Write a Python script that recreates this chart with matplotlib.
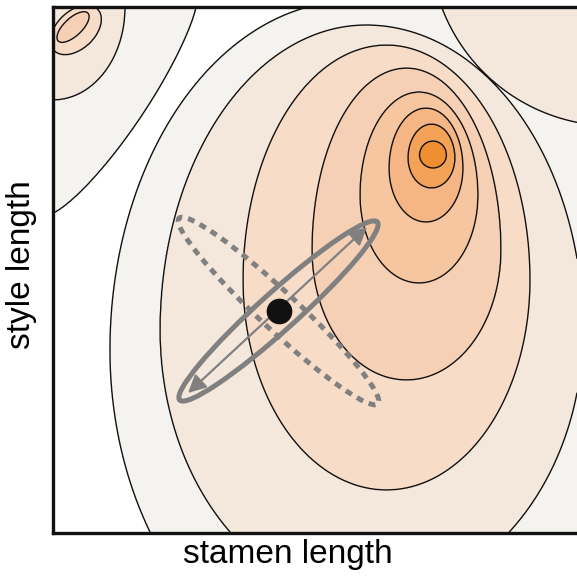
import numpy as np
import matplotlib
matplotlib.use('Agg')
import matplotlib.pyplot as plt
from matplotlib.patches import Ellipse

plt.rcParams['font.family'] = ['Liberation Sans', 'DejaVu Sans']

# trait space (arbitrary units, ~1 unit per pixel of the original)
x_max, y_max = 524, 526

# main fitness peak: nested egg-shaped contours, outer -> inner
main_levels = [1, 2, 3, 4, 5, 6, 7, 8]
main_cx = [300, 313, 333.5, 353.5, 366, 373, 378.5, 380]
main_cy = [183, 203, 253, 283, 338, 365, 375, 378]
main_a_left = [243, 206, 143.5, 94.5, 59, 37, 23.5, 13.5]
main_a_right = [420, 217, 143.5, 94.5, 59, 37, 23.5, 13.5]
main_top = [349, 305, 235, 182, 103, 60, 34, 14]
main_bottom = [331, 269, 210, 130, 88, 54, 30, 13]

# secondary peak in the upper-left corner
left_levels = [1, 2, 3, 4]
left_cx = [0, 0, 23, 20]
left_cy = [526, 525, 503, 506]
left_a = [143, 72, 30, 20.5]
left_b = [206, 92, 19, 9]
left_angle = [0, 0, 43, 43]
left_power = [1.25, 2, 2, 2]

# shoulder of a peak beyond the upper-right corner
tr_levels = [2]
tr_cx = [560]
tr_cy = [590]
tr_r = [183]

level_colors = ['#ffffff', '#f4f3ef', '#f4e8dc', '#f7dcc8', '#f5d0b5',
                '#f5c6a0', '#f5b585', '#f3a258', '#ef8f32']

# population: mean and two covariance ellipses
pop_mean = (225.5, 222)
cov_solid = dict(width=266, height=38, angle=42)
cov_dashed = dict(width=272, height=38, angle=-43)
arrow_start = (135, 140)
arrow_end = (314, 306)


def family_level(X, Y, shapes, values, out_slope=3.0, in_slope=1.0):
    R = []
    for cx, cy, al, ar, bt, bb, ang, p in shapes:
        dx, dy = X - cx, Y - cy
        c, s = np.cos(np.radians(ang)), np.sin(np.radians(ang))
        u = dx * c + dy * s
        v = -dx * s + dy * c
        a = np.where(u >= 0, ar, al)
        b = np.where(v >= 0, bt, bb)
        R.append((np.abs(u / a) ** p + np.abs(v / b) ** p) ** (1.0 / p))
    R = np.array(R)
    vals = np.array(values, dtype=float)
    n = (R < 1).sum(axis=0)
    lev = vals[0] - (R[0] - 1) * out_slope
    for k in range(len(vals) - 1):
        t = np.clip((1 - R[k]) / (R[k + 1] - R[k] + 1e-9), 0, 0.999)
        lev = np.where(n == k + 1, vals[k] + t * (vals[k + 1] - vals[k]), lev)
    lev = np.where(n == len(vals), vals[-1] + np.clip(1 - R[-1], 0, 1) * in_slope, lev)
    return lev


xs = np.linspace(0, x_max, 700)
ys = np.linspace(0, y_max, 700)
X, Y = np.meshgrid(xs, ys)

main = family_level(X, Y, [(main_cx[i], main_cy[i], main_a_left[i], main_a_right[i],
                            main_top[i], main_bottom[i], 0, 2)
                           for i in range(len(main_levels))], main_levels)
left = family_level(X, Y, [(left_cx[i], left_cy[i], left_a[i], left_a[i], left_b[i], left_b[i],
                            left_angle[i], left_power[i])
                           for i in range(len(left_levels))], left_levels)
topright = family_level(X, Y, [(tr_cx[0], tr_cy[0], tr_r[0], tr_r[0], tr_r[0], tr_r[0], 0, 2)],
                        tr_levels, out_slope=3.0, in_slope=1.5)
Z = np.maximum.reduce([main, left, topright])

fig = plt.figure(figsize=(5.77, 5.76), dpi=100)
ax = fig.add_axes([53 / 577, 43 / 576, 524 / 577, 526 / 576])

bounds = [-100] + main_levels + [100]
ax.contourf(X, Y, Z, levels=bounds, colors=level_colors, zorder=1)
ax.contour(X, Y, Z, levels=main_levels, colors='#111111', linewidths=1.0, zorder=2)

gray = '#808080'
ax.add_patch(Ellipse(pop_mean, fill=False, edgecolor=gray, lw=3.6, zorder=4, **cov_solid))
ax.add_patch(Ellipse(pop_mean, fill=False, edgecolor=gray, lw=3.6, zorder=3,
                     linestyle=(0, (1.4, 1.2)), **cov_dashed))
ax.annotate('', xy=arrow_end, xytext=arrow_start,
            arrowprops=dict(arrowstyle='<|-|>', color=gray, lw=1.6,
                            mutation_scale=27, shrinkA=0, shrinkB=0), zorder=5)
ax.plot([pop_mean[0]], [pop_mean[1]], 'o', color='#111111', markersize=17.5, zorder=6)

ax.set_xlim(0, x_max)
ax.set_ylim(0, y_max)
ax.set_xticks([])
ax.set_yticks([])
for side in ['left', 'bottom', 'top']:
    ax.spines[side].set_linewidth(2.4)
    ax.spines[side].set_color('#111111')
ax.spines['right'].set_visible(False)

ax.set_xlabel('stamen length', fontsize=24)
ax.xaxis.set_label_coords((287.5 - 53) / 524, -0.012)
ax.set_ylabel('style length', fontsize=24)
ax.yaxis.set_label_coords((37 - 53) / 524, (533 - 265) / 526)

fig.savefig('out.png', dpi=100)
